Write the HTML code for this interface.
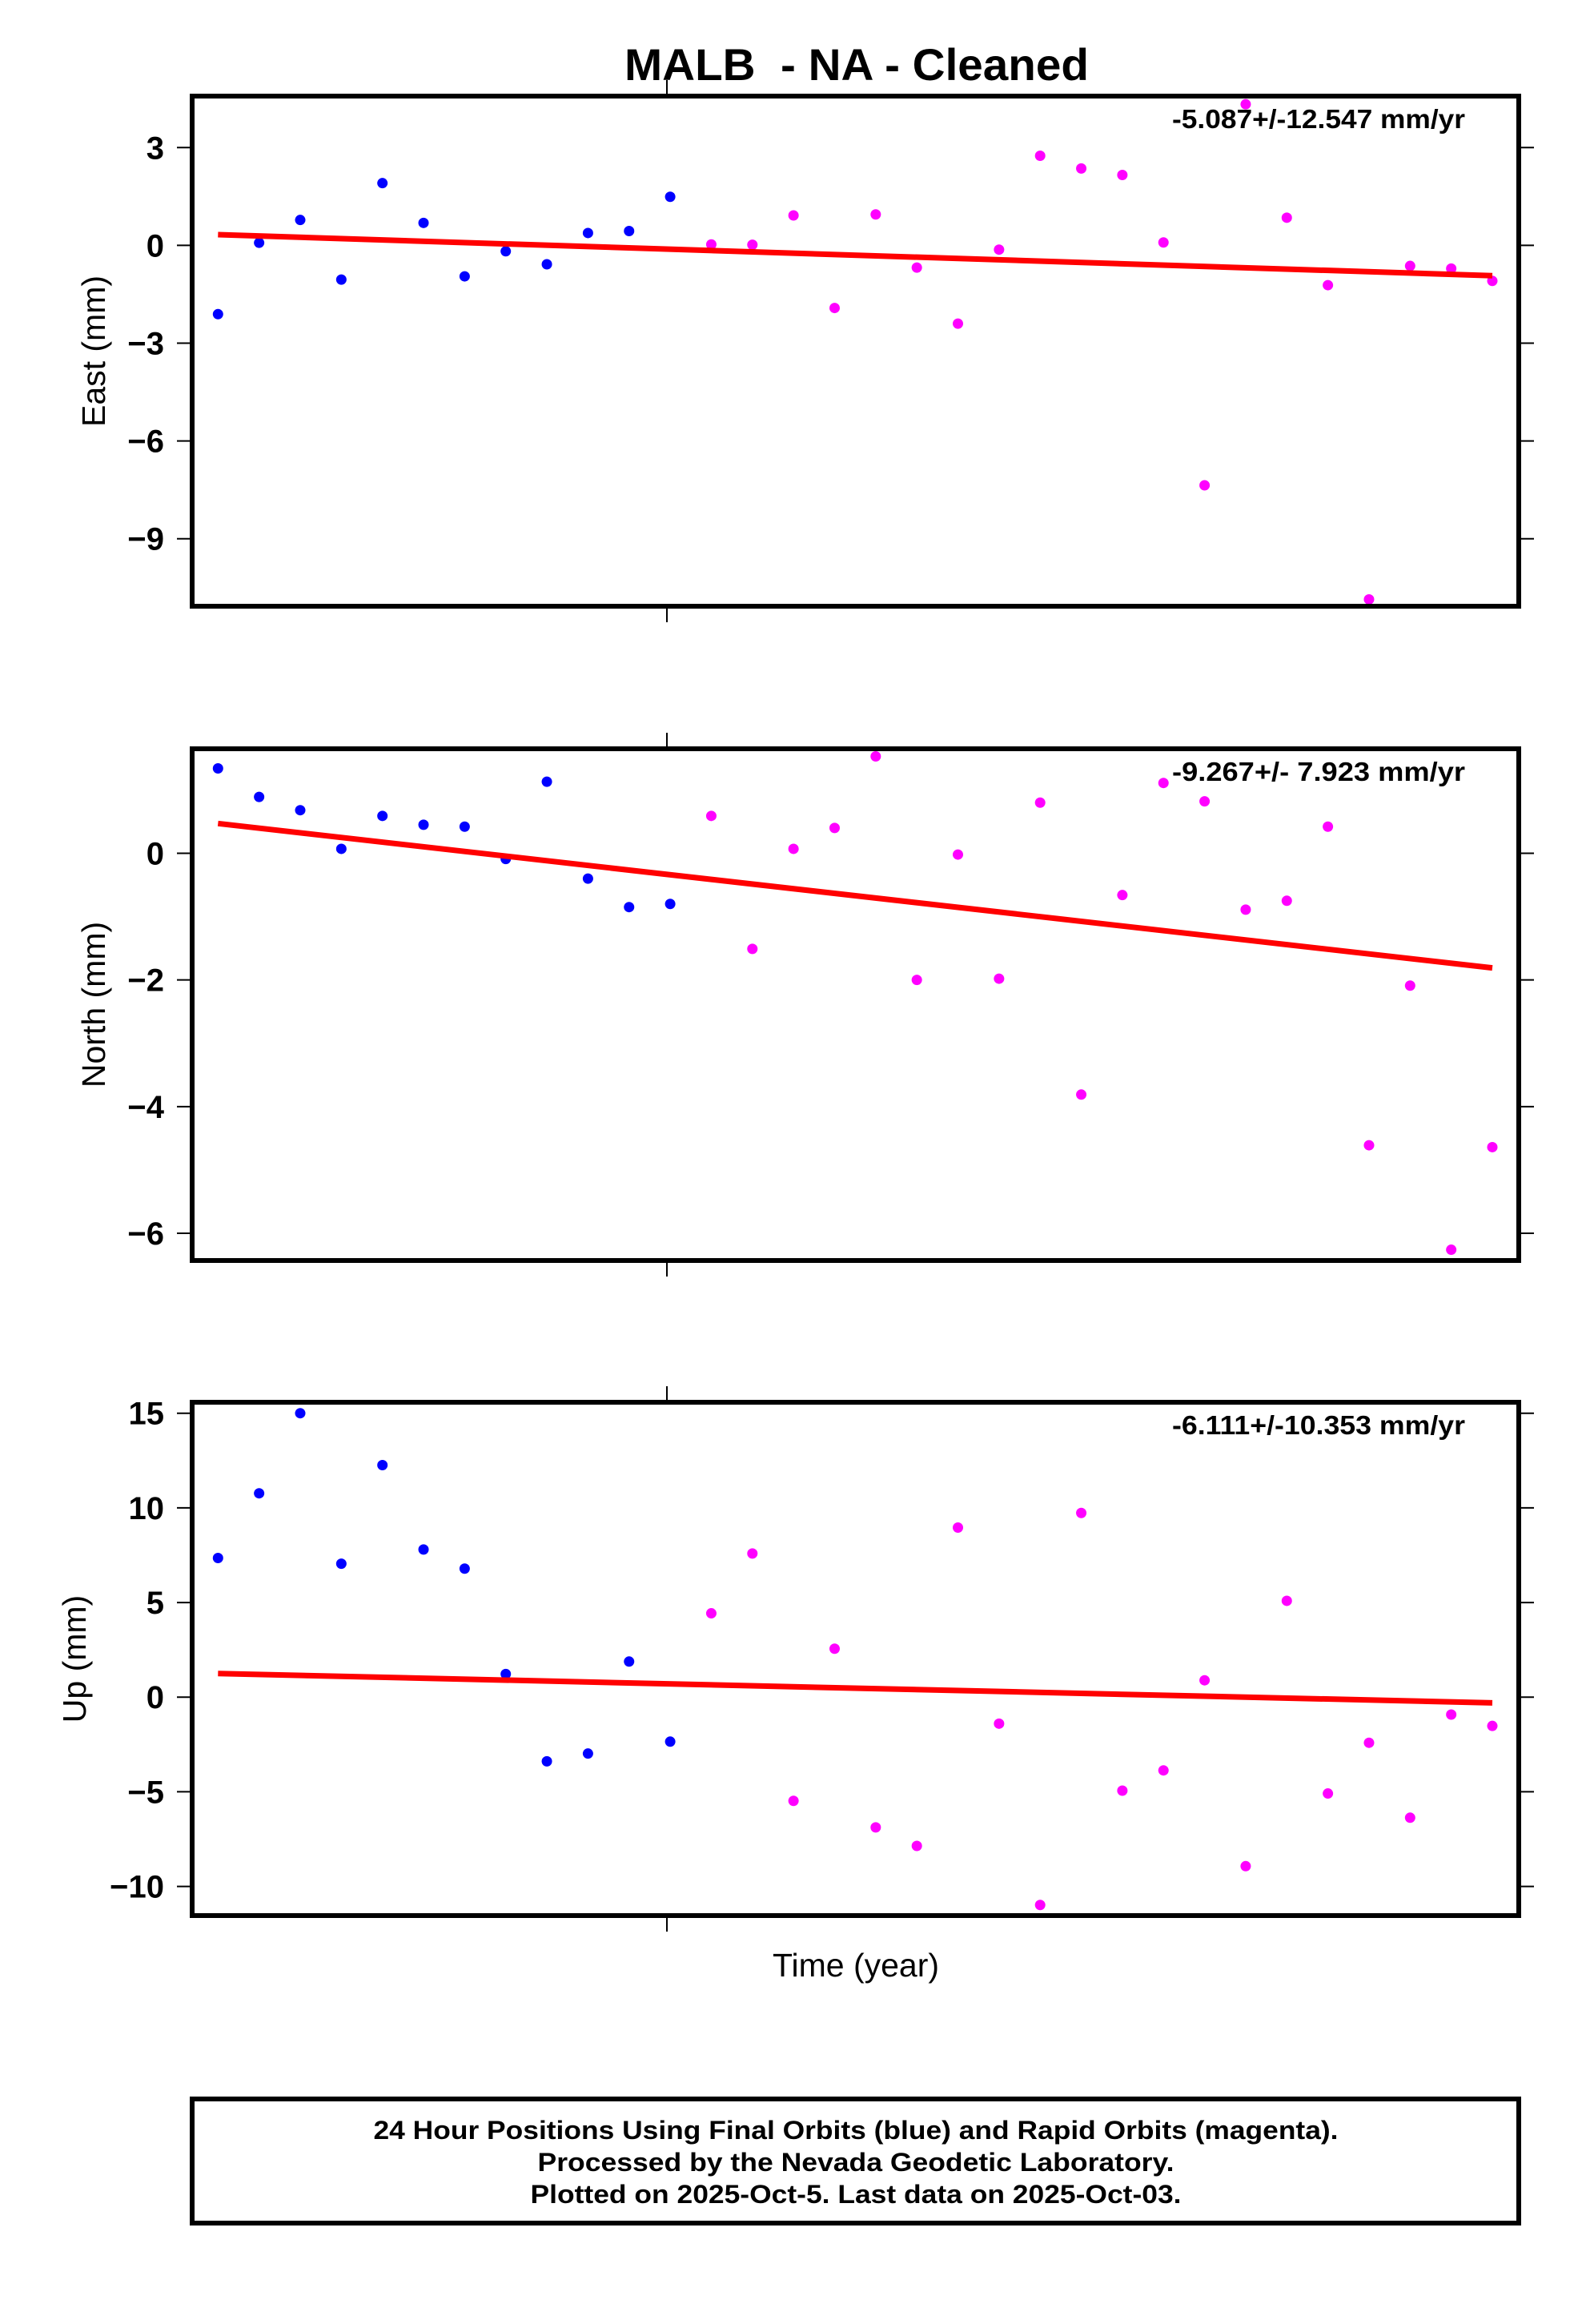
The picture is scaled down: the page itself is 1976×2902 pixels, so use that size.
<!DOCTYPE html>
<html><head><meta charset="utf-8"><style>
html,body{margin:0;padding:0;background:#fff;}
svg{display:block;font-family:"Liberation Sans",Arial,sans-serif;}
</style></head><body>
<svg id="chart" width="1976" height="2902" viewBox="0 0 1976 2902" xmlns="http://www.w3.org/2000/svg">
<rect width="1976" height="2902" fill="#fff"/>
<text x="1070" y="100" text-anchor="middle" font-size="56" font-weight="bold" textLength="580" lengthAdjust="spacingAndGlyphs">MALB &#160;- NA - Cleaned</text>
<g id="panels"></g>
<text x="1069" y="2468" text-anchor="middle" font-size="41">Time (year)</text>
<rect x="240" y="2621" width="1657" height="155" fill="none" stroke="#000" stroke-width="6"/>
<text x="1069" y="2671" text-anchor="middle" font-size="32" font-weight="bold" textLength="1205" lengthAdjust="spacingAndGlyphs">24 Hour Positions Using Final Orbits (blue) and Rapid Orbits (magenta).</text>
<text x="1069" y="2711" text-anchor="middle" font-size="32" font-weight="bold" textLength="795" lengthAdjust="spacingAndGlyphs">Processed by the Nevada Geodetic Laboratory.</text>
<text x="1069" y="2751" text-anchor="middle" font-size="32" font-weight="bold" textLength="813" lengthAdjust="spacingAndGlyphs">Plotted on 2025-Oct-5. Last data on 2025-Oct-03.</text>
</svg>
<script>
// data: 32 daily solutions; first 12 final orbits (blue), rest rapid (magenta)
const dayIndex = [0,1,2,3,4,5,6,7,8,9,10,11,12,13,14,15,16,17,18,19,20,21,22,23,24,25,26,27,28,29,30,31];
const finalCount = 12;
const eastValues = [-2.11,0.08,0.78,-1.05,1.91,0.69,-0.95,-0.18,-0.58,0.38,0.44,1.49,
  0.03,0.02,0.92,-1.92,0.95,-0.68,-2.4,-0.13,2.75,2.36,2.16,0.09,-7.36,4.33,0.85,-1.22,-10.86,-0.63,-0.71,-1.09];
const northValues = [1.34,0.89,0.68,0.07,0.59,0.45,0.42,-0.09,1.13,-0.4,-0.85,-0.8,
  0.59,-1.51,0.07,0.4,1.53,-2.0,-0.02,-1.98,0.8,-3.81,-0.66,1.11,0.82,-0.89,-0.75,0.42,-4.61,-2.09,-6.26,-4.64];
const upValues = [7.35,10.77,15.0,7.05,12.26,7.8,6.79,1.22,-3.39,-2.98,1.88,-2.35,
  4.43,7.59,-5.48,2.56,-6.88,-7.86,8.96,-1.4,-10.98,9.73,-4.94,-3.87,0.89,-8.93,5.09,-5.09,-2.41,-6.37,-0.92,-1.52];
const eastTrend = [0.33,-0.93];
const northTrend = [0.47,-1.81];
const upTrend = [1.25,-0.3];
const eastTicks = [3,0,-3,-6,-9];
const northTicks = [0,-2,-4,-6];
const upTicks = [15,10,5,0,-5,-10];
const eastLabel = ["East (mm)","-5.087+/-12.547 mm/yr"];
const northLabel = ["North (mm)","-9.267+/- 7.923 mm/yr"];
const upLabel = ["Up (mm)","-6.111+/-10.353 mm/yr"];

const NS="http://www.w3.org/2000/svg";
const root=document.getElementById('panels');
function mk(tag,attrs,parent){const e=document.createElementNS(NS,tag);for(const k in attrs)e.setAttribute(k,attrs[k]);(parent||root).appendChild(e);return e;}
const L=240,R=1897;
function xScale(i){return 272.3+(1864-272.3)*(i-0)/31;}

function panel(key,top,bottom,ymax,ymin,vals,trend,ticks,labels,labelX){
  const g=mk('g',{});
  
  
  const y=v=>top+(ymax-v)/(ymax-ymin)*(bottom-top);
  ticks.forEach(t=>{
    const ty=y(t);
    const tl=mk('line',{x1:221,x2:L,y1:ty,y2:ty,stroke:'#000','stroke-width':2},g);
    
    
    const tr=mk('line',{x1:R,x2:1916,y1:ty,y2:ty,stroke:'#000','stroke-width':2},g);
    
    
    const tx=mk('text',{x:205,y:ty+14,'text-anchor':'end','font-size':40,'font-weight':'bold'},g);
    tx.textContent=(t<0?'\u2212'+Math.abs(t):String(t));
    
    
  });
  [[top-20,top],[bottom,bottom+20]].forEach(p=>{
    const xt=mk('line',{x1:833,x2:833,y1:p[0],y2:p[1],stroke:'#000','stroke-width':2},g);
    
    
  });
  vals.forEach((v,i)=>{
    const c=mk('circle',{cx:xScale(dayIndex[i]),cy:y(v),r:6.5,fill:i<finalCount?'#0000ff':'#ff00ff'},g);
    
    
  });
  const ln=mk('line',{x1:xScale(dayIndex[0]),y1:y(trend[0]),x2:xScale(dayIndex[dayIndex.length-1]),y2:y(trend[1]),stroke:'#ff0000','stroke-width':7},g);
  
  
  const fr=mk('rect',{x:L,y:top,width:R-L,height:bottom-top,fill:'none',stroke:'#000','stroke-width':6},g);
  
  
  const cy=(top+bottom)/2;
  const at=mk('text',{x:labelX,y:cy,'text-anchor':'middle','font-size':41,transform:'rotate(-90 '+labelX+' '+cy+')',dy:'14'},g);
  at.textContent=labels[0];
  
  
  const rt=mk('text',{x:1830,y:top+40,'text-anchor':'end','font-size':33,'font-weight':'bold',textLength:366,lengthAdjust:'spacingAndGlyphs'},g);
  rt.textContent=labels[1];
  
  
}
panel('east',120,757,4.58,-11.07,eastValues,eastTrend,eastTicks,eastLabel,117);
panel('north',935,1574,1.65,-6.43,northValues,northTrend,northTicks,northLabel,117);
panel('up',1751,2392,15.58,-11.54,upValues,upTrend,upTicks,upLabel,93);
</script>
</body></html>
